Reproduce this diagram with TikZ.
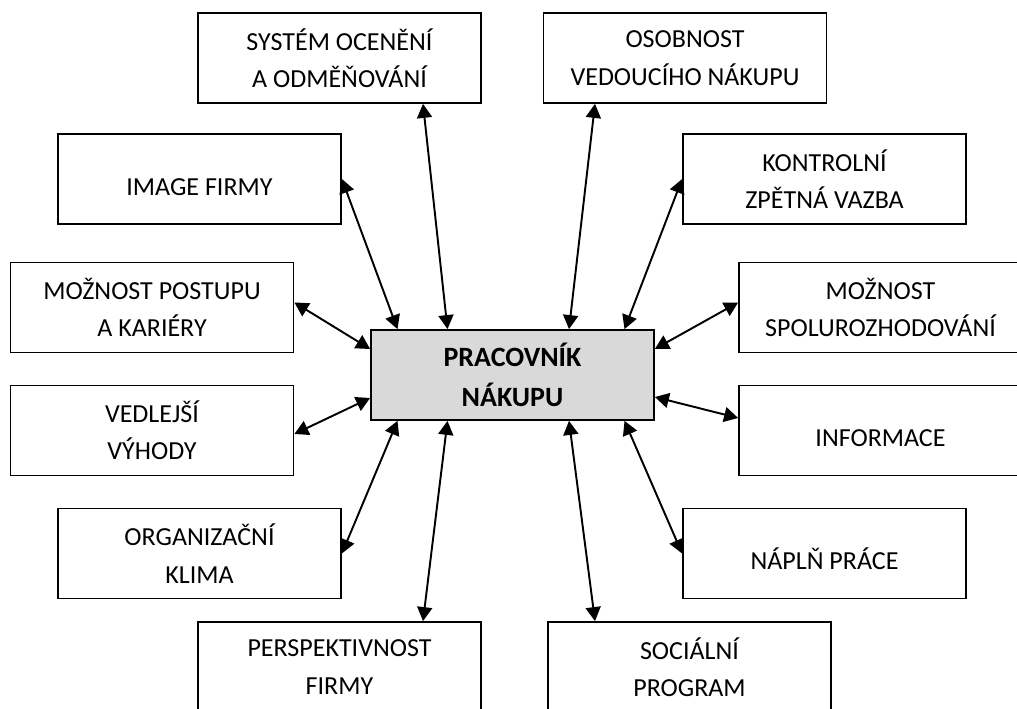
\documentclass[tikz,border=0pt]{standalone}
\usepackage{fontspec}
\setmainfont{Carlito}
\usepackage{xcolor}
\definecolor{seda85}{gray}{.85}
\usetikzlibrary{arrows.meta}

\begin{document}
\begin{tikzpicture}[
    font=\fontsize{14.8}{21.3}\selectfont,
    faktor/.style={rectangle, draw, line width=1pt, fill=white,
      minimum width=5.66cm, minimum height=1.8cm, align=center, inner sep=0pt},
    jedenradek/.style={faktor, text height=0.8cm, text depth=0.15cm},
    stred/.style={faktor, fill=seda85, font=\fontsize{15.9}{22.8}\selectfont\bfseries},
    vazba/.style={<->, line width=1.1pt},
    >={Triangle[length=2.8mm, width=3mm]}
  ]
    \useasboundingbox (0,0) rectangle (20.34,14.18);

    \node[stred] (pracovnik) at (10.25,6.68) {PRACOVNÍK\\NÁKUPU};

    % levá strana
    \node[faktor] (oceneni) at (6.79,13.02) {SYSTÉM OCENĚNÍ\\A ODMĚŇOVÁNÍ};
    \node[jedenradek] (image) at (3.99,10.60) {IMAGE FIRMY};
    \node[faktor] (postup) at (3.04,8.03) {MOŽNOST POSTUPU\\A KARIÉRY};
    \node[faktor] (vyhody) at (3.04,5.57) {VEDLEJŠÍ\\VÝHODY};
    \node[faktor] (klima) at (3.99,3.11) {ORGANIZAČNÍ\\KLIMA};
    \node[faktor] (perspektiva) at (6.79,0.84) {PERSPEKTIVNOST\\FIRMY};

    % pravá strana
    \node[faktor] (osobnost) at (13.70,13.02) {OSOBNOST\\VEDOUCÍHO NÁKUPU};
    \node[faktor] (kontrola) at (16.49,10.60) {KONTROLNÍ\\ZPĚTNÁ VAZBA};
    \node[faktor] (spolurozh) at (17.61,8.03) {MOŽNOST\\SPOLUROZHODOVÁNÍ};
    \node[jedenradek] (informace) at (17.61,5.57) {INFORMACE};
    \node[jedenradek] (napln) at (16.49,3.11) {NÁPLŇ PRÁCE};
    \node[faktor] (socprogram) at (13.79,0.84) {SOCIÁLNÍ\\PROGRAM};

    \draw[vazba] ([xshift=1.67cm]oceneni.south) -- ([xshift=-1.3cm]pracovnik.north);
    \draw[vazba] (image.east) -- ([xshift=-2.3cm]pracovnik.north);
    \draw[vazba] ([yshift=0.1cm]postup.east) -- ([yshift=0.52cm]pracovnik.west);
    \draw[vazba] ([yshift=-0.07cm]vyhody.east) -- ([yshift=-0.46cm]pracovnik.west);
    \draw[vazba] (klima.east) -- ([xshift=-2.3cm]pracovnik.south);
    \draw[vazba] ([xshift=1.67cm]perspektiva.north) -- ([xshift=-1.3cm]pracovnik.south);

    \draw[vazba] ([xshift=-1.8cm]osobnost.south) -- ([xshift=1.13cm]pracovnik.north);
    \draw[vazba] (kontrola.west) -- ([xshift=2.24cm]pracovnik.north);
    \draw[vazba] ([yshift=0.1cm]spolurozh.west) -- ([yshift=0.52cm]pracovnik.east);
    \draw[vazba] ([yshift=0.25cm]informace.west) -- ([yshift=-0.44cm]pracovnik.east);
    \draw[vazba] (napln.west) -- ([xshift=2.24cm]pracovnik.south);
    \draw[vazba] ([xshift=-1.89cm]socprogram.north) -- ([xshift=1.13cm]pracovnik.south);
\end{tikzpicture}
\end{document}
